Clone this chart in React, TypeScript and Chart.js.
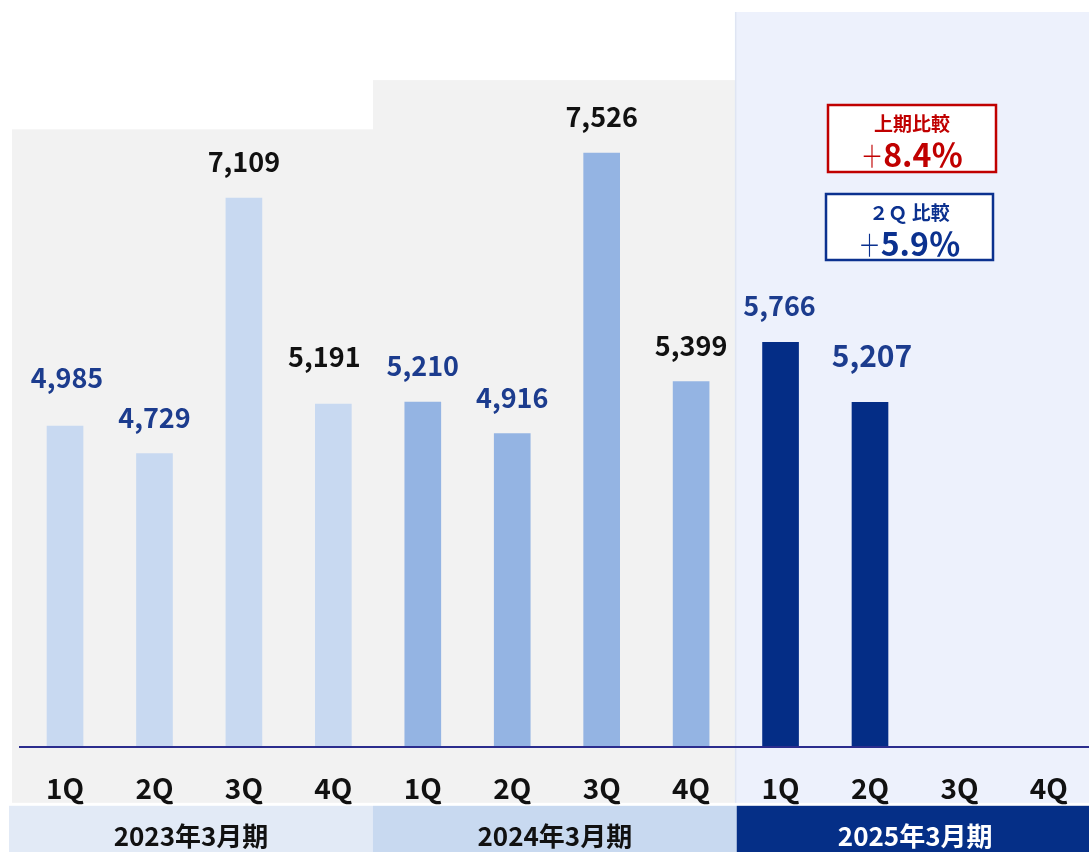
import React, { useEffect, useRef } from "react";
import { Chart, registerables } from "chart.js";

Chart.register(...registerables);

// ---------- data ----------
const quarterLabels = ["1Q", "2Q", "3Q", "4Q", "1Q", "2Q", "3Q", "4Q", "1Q", "2Q", "3Q", "4Q"];
const fiscalYears = ["2023年3月期", "2024年3月期", "2025年3月期"];
const fy2023Values = [4985, 4729, 7109, 5191];
const fy2024Values = [5210, 4916, 7526, 5399];
const fy2025Values: (number | null)[] = [5766, 5207, null, null];
const yAxisMin = 2000;
const yAxisMax = 8840;
const halfYearTitle = "上期比較";
const halfYearChange = "8.4％";
const quarterTitle = "２Ｑ 比較";
const quarterChange = "5.9％";

// ---------- styles ----------
const FONT = "'Noto Sans CJK JP', 'Noto Sans', sans-serif";
const BLUE_TEXT = "#1C3C8E";
const BLACK_TEXT = "#111111";
const barColors = [
  "#C8D9F1", "#C8D9F1", "#C8D9F1", "#C8D9F1",
  "#94B4E3", "#94B4E3", "#94B4E3", "#94B4E3",
  "#042D86", "#042D86", "#042D86", "#042D86",
];
const labelColors = [
  BLUE_TEXT, BLUE_TEXT, BLACK_TEXT, BLACK_TEXT,
  BLUE_TEXT, BLUE_TEXT, BLACK_TEXT, BLACK_TEXT,
  BLUE_TEXT, BLUE_TEXT, BLUE_TEXT, BLUE_TEXT,
];
const labelGaps = [38, 26, 26, 37, 26, 26, 26, 26, 26, 35, 26, 26];
const labelSizes = [27, 27, 27, 27, 27, 27, 27, 27, 27, 30, 27, 27];
const labelShift = [2, 0, 0, -9, 0, 0, 0, 0, -1, 2, 0, 0];

export default function App() {
  const canvasRef = useRef<HTMLCanvasElement | null>(null);

  useEffect(() => {
    const canvas = canvasRef.current;
    if (!canvas) return;
    const values = [...fy2023Values, ...fy2024Values, ...fy2025Values];

    const decor = {
      id: "decor",
      beforeDraw(chart: any) {
        const { ctx, chartArea, scales } = chart;
        const y = scales.y;
        const step = (chartArea.right - chartArea.left) / quarterLabels.length;
        const edge = (pos: number) => chartArea.left + (pos + 0.5) * step;
        const regionBottom = chartArea.bottom + 56;
        ctx.save();
        ctx.fillStyle = "#FFFFFF";
        ctx.fillRect(0, 0, chart.width, chart.height);
        // period backgrounds
        ctx.fillStyle = "#F2F2F2";
        let t = y.getPixelForValue(7748);
        ctx.fillRect(edge(-0.593), t, edge(3.443) - edge(-0.593), regionBottom - t);
        t = y.getPixelForValue(8206);
        ctx.fillRect(edge(3.443), t, edge(7.49) - edge(3.443), regionBottom - t);
        ctx.fillStyle = "#EDF1FC";
        t = chartArea.top;
        ctx.fillRect(edge(7.49), t, chart.width - edge(7.49), regionBottom - t);
        ctx.fillStyle = "#DFE5F3";
        ctx.fillRect(edge(7.49), t, 1.5, regionBottom - t);
        // fiscal year bands
        const bandTop = regionBottom + 3;
        const bands = [
          { l: edge(-0.626), r: edge(3.443), c: "#E2EAF6", tc: BLACK_TEXT },
          { l: edge(3.443), r: edge(7.51), c: "#C8D9F0", tc: BLACK_TEXT },
          { l: edge(7.51), r: chartArea.right, c: "#052F87", tc: "#FFFFFF" },
        ];
        bands.forEach((b, i) => {
          ctx.fillStyle = b.c;
          ctx.fillRect(b.l, bandTop, Math.max(b.r, i === 2 ? chart.width : b.r) - b.l, chart.height - bandTop);
          ctx.fillStyle = b.tc;
          ctx.font = `bold 26px ${FONT}`;
          ctx.textAlign = "center";
          ctx.textBaseline = "middle";
          ctx.fillText(fiscalYears[i], (b.l + b.r) / 2, bandTop + 30);
        });
        ctx.restore();
      },
      afterDatasetsDraw(chart: any) {
        const { ctx } = chart;
        const meta = chart.getDatasetMeta(0);
        ctx.save();
        ctx.textAlign = "center";
        ctx.textBaseline = "alphabetic";
        meta.data.forEach((bar: any, i: number) => {
          const v = values[i];
          if (v === null || v === undefined) return;
          ctx.fillStyle = labelColors[i];
          ctx.font = `bold ${labelSizes[i]}px ${FONT}`;
          ctx.fillText(v.toLocaleString("en-US"), bar.x + labelShift[i], bar.y - labelGaps[i]);
        });

        // comparison boxes
        const drawBox = (
          l: number, tp: number, w: number, h: number, color: string,
          title: string, change: string,
        ) => {
          ctx.fillStyle = "#FFFFFF";
          ctx.fillRect(l, tp, w, h);
          ctx.strokeStyle = color;
          ctx.lineWidth = 2.5;
          ctx.strokeRect(l, tp, w, h);
          const cx = l + w / 2;
          ctx.fillStyle = color;
          ctx.textBaseline = "middle";
          ctx.textAlign = "center";
          ctx.font = `bold 19px ${FONT}`;
          ctx.fillText(title, cx, tp + 19);
          ctx.font = `bold 32px ${FONT}`;
          const wMain = ctx.measureText(change).width;
          ctx.font = `300 30px ${FONT}`;
          const wPlus = ctx.measureText("＋").width * 0.75;
          const start = cx - (wMain + wPlus) / 2;
          ctx.textAlign = "left";
          ctx.save();
          ctx.translate(start, tp + 51);
          ctx.scale(0.75, 1);
          ctx.fillText("＋", 0, 0);
          ctx.restore();
          ctx.font = `bold 32px ${FONT}`;
          ctx.fillText(change, start + wPlus, tp + 50);
        };
        drawBox(828, 105, 168, 67, "#C00000", halfYearTitle, halfYearChange);
        drawBox(826, 194, 167, 66, "#0B318F", quarterTitle, quarterChange);
        ctx.restore();
      },
    };

    const chart = new Chart(canvas, {
      type: "bar",
      data: {
        labels: quarterLabels,
        datasets: [
          {
            data: values,
            backgroundColor: barColors,
            barThickness: 36,
            borderWidth: 0,
          },
        ],
      },
      options: {
        responsive: false,
        animation: false,
        devicePixelRatio: 1,
        layout: { padding: { left: 20.3, right: 6.4, top: 12, bottom: 21.6 } },
        plugins: {
          legend: { display: false },
          tooltip: { enabled: false },
        },
        scales: {
          x: {
            offset: true,
            grid: { display: false, drawTicks: false, tickLength: 0 },
            border: { display: true, color: "#2B2D8E", width: 2, z: 1 },
            ticks: {
              color: BLACK_TEXT,
              font: { family: FONT, size: 28, weight: "bold" },
              padding: 25,
              maxRotation: 0,
              autoSkip: false,
            },
          },
          y: {
            display: false,
            min: yAxisMin,
            max: yAxisMax,
          },
        },
      },
      plugins: [decor],
    });
    return () => chart.destroy();
  }, []);

  return (
    <div
      style={{
        position: "fixed",
        left: 0,
        top: 0,
        width: 1089,
        height: 852,
        overflow: "hidden",
        background: "#FFFFFF",
      }}
    >
      <canvas ref={canvasRef} width={1100} height={852} style={{ display: "block" }} />
    </div>
  );
}
